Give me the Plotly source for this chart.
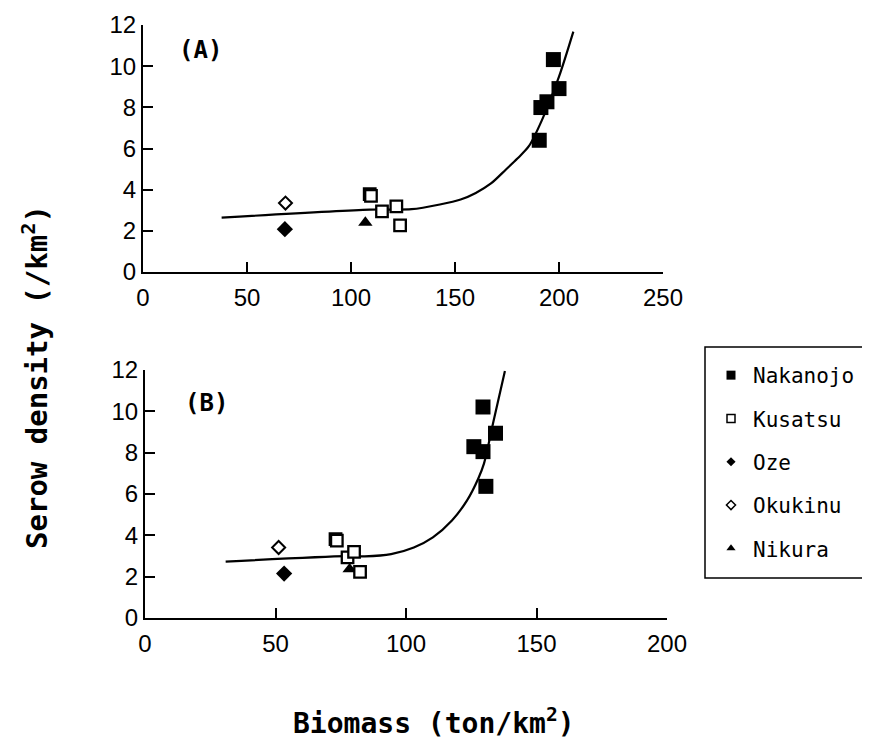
import plotly.graph_objects as go

# ---------------- data ----------------
series_names = ["Nakanojo", "Kusatsu", "Oze", "Okukinu", "Nikura"]

# Panel A
a_nakanojo_x = [197.3, 200.0, 194.2, 191.3, 190.5]
a_nakanojo_y = [10.32, 8.91, 8.27, 7.99, 6.40]
a_kusatsu_x = [109.0, 109.6, 114.9, 121.8, 123.6]
a_kusatsu_y = [3.78, 3.70, 2.95, 3.19, 2.27]
a_oze_x = [68.2]
a_oze_y = [2.08]
a_okukinu_x = [68.5]
a_okukinu_y = [3.35]
a_nikura_x = [106.9]
a_nikura_y = [2.40]
a_curve_x = [37.8, 109.1, 129.1, 142.7, 152.7, 160.0, 167.3, 174.5, 180.0, 185.5, 191.8, 200.0, 206.9]
a_curve_y = [2.64, 3.03, 3.05, 3.28, 3.52, 3.84, 4.30, 4.98, 5.51, 6.11, 7.38, 9.49, 11.68]

# Panel B
b_nakanojo_x = [129.5, 134.3, 126.0, 129.5, 130.6]
b_nakanojo_y = [10.21, 8.94, 8.29, 8.05, 6.37]
b_kusatsu_x = [73.0, 73.5, 77.6, 80.1, 82.4]
b_kusatsu_y = [3.82, 3.74, 2.93, 3.20, 2.23]
b_oze_x = [53.3]
b_oze_y = [2.15]
b_okukinu_x = [51.2]
b_okukinu_y = [3.41]
b_nikura_x = [78.4]
b_nikura_y = [2.36]
b_curve_x = [30.9, 76.9, 84.2, 94.3, 103.0, 110.3, 117.6, 123.4, 127.7, 129.9, 133.5, 137.9]
b_curve_y = [2.73, 2.99, 2.98, 3.09, 3.41, 3.90, 4.72, 5.69, 6.75, 7.48, 9.51, 11.95]

a_xticks = [0, 50, 100, 150, 200, 250]
b_xticks = [0, 50, 100, 150, 200]
yticks = [0, 2, 4, 6, 8, 10, 12]

# ---------------- layout helpers (screen pixel -> paper; page has an 8px body offset) ----------------
W, H = 870, 742
OFF = 8


def px(r):
    return (r - OFF) / W


def py(r):
    return 1 - (r - OFF) / H


# ---------------- styles ----------------
TICKFONT = dict(family="Liberation Sans, Arial", size=24, color="black")
BOLDFONT = dict(family="DejaVu Sans Mono, Liberation Mono", size=24, color="black", weight="bold")
LEGFONT = dict(family="DejaVu Sans Mono, Liberation Mono", size=21, color="black")

styles = {
    "Nakanojo": dict(symbol="square", size=15, color="black", line=dict(color="black", width=0)),
    "Kusatsu": dict(symbol="square", size=11.5, color="white", line=dict(color="black", width=2.3)),
    "Oze": dict(symbol="diamond", size=12.5, color="black", line=dict(color="black", width=0)),
    "Okukinu": dict(symbol="diamond", size=10, color="white", line=dict(color="black", width=2)),
    "Nikura": dict(symbol="triangle-up", size=12.5, color="black", line=dict(color="black", width=0)),
}
legend_styles = {
    "Nakanojo": dict(symbol="square", size=9, color="black", line=dict(color="black", width=0)),
    "Kusatsu": dict(symbol="square", size=8, color="white", line=dict(color="black", width=1.5)),
    "Oze": dict(symbol="diamond", size=7, color="black", line=dict(color="black", width=0)),
    "Okukinu": dict(symbol="diamond", size=7, color="white", line=dict(color="black", width=1.5)),
    "Nikura": dict(symbol="triangle-up", size=8, color="black", line=dict(color="black", width=0)),
}

fig = go.Figure()

panels = [
    ("x", "y", a_curve_x, a_curve_y,
     {"Nakanojo": (a_nakanojo_x, a_nakanojo_y), "Kusatsu": (a_kusatsu_x, a_kusatsu_y),
      "Oze": (a_oze_x, a_oze_y), "Okukinu": (a_okukinu_x, a_okukinu_y), "Nikura": (a_nikura_x, a_nikura_y)}),
    ("x2", "y2", b_curve_x, b_curve_y,
     {"Nakanojo": (b_nakanojo_x, b_nakanojo_y), "Kusatsu": (b_kusatsu_x, b_kusatsu_y),
      "Oze": (b_oze_x, b_oze_y), "Okukinu": (b_okukinu_x, b_okukinu_y), "Nikura": (b_nikura_x, b_nikura_y)}),
]

for xa, ya, cx, cy, pts in panels:
    fig.add_trace(go.Scatter(x=cx, y=cy, mode="lines", xaxis=xa, yaxis=ya,
                             line=dict(color="black", width=2.2, shape="spline", smoothing=0.8),
                             showlegend=False, hoverinfo="skip"))
    for name in ["Okukinu", "Oze", "Nikura", "Kusatsu", "Nakanojo"]:
        xs, ys = pts[name]
        fig.add_trace(go.Scatter(x=xs, y=ys, mode="markers", xaxis=xa, yaxis=ya,
                                 marker=styles[name], showlegend=False, name=name))

# legend-only entries (small symbols like the reference legend)
for name in series_names:
    fig.add_trace(go.Scatter(x=[None], y=[None], mode="markers", name=name,
                             marker=legend_styles[name], legendgroup=name, showlegend=True))

axis_common = dict(showgrid=False, zeroline=False, showline=True, linecolor="black", linewidth=2,
                   ticks="inside", ticklen=10, tickwidth=2, tickcolor="black", tickfont=TICKFONT,
                   mirror=False, automargin=False)

fig.update_layout(
    width=W, height=H,
    margin=dict(l=0, r=0, t=0, b=0, pad=0),
    paper_bgcolor="white", plot_bgcolor="white",
    xaxis=dict(domain=[px(143), px(663)], range=[0, 250], tickvals=a_xticks, anchor="y",
               ticklabelstandoff=3, **axis_common),
    yaxis=dict(domain=[py(272), py(25)], range=[0, 12], tickvals=yticks, anchor="x",
               ticklabelstandoff=0, **axis_common),
    xaxis2=dict(domain=[px(145), px(667)], range=[0, 200], tickvals=b_xticks, anchor="y2",
                ticklabelstandoff=3, **axis_common),
    yaxis2=dict(domain=[py(618), py(370)], range=[0, 12], tickvals=yticks, anchor="x2",
                ticklabelstandoff=0, **axis_common),
    legend=dict(x=px(709), y=py(355), xanchor="left", yanchor="top", bgcolor="rgba(0,0,0,0)",
                borderwidth=0, font=LEGFONT, tracegroupgap=13, itemwidth=34),
    showlegend=True,
    shapes=[dict(type="rect", xref="paper", yref="paper", x0=px(705), x1=1.25,
                 y0=py(578), y1=py(347), line=dict(color="black", width=1.5))],
    annotations=[
        dict(text="(A)", x=px(200), y=py(50), xref="paper", yref="paper", showarrow=False,
             font=BOLDFONT, xanchor="center", yanchor="middle"),
        dict(text="(B)", x=px(206), y=py(403), xref="paper", yref="paper", showarrow=False,
             font=BOLDFONT, xanchor="center", yanchor="middle"),
        dict(text="Serow density (/km<sup>2</sup>)", x=px(35), y=py(377), xref="paper", yref="paper",
             showarrow=False, textangle=-90, font=dict(BOLDFONT, size=29), xanchor="center", yanchor="middle"),
        dict(text="Biomass (ton/km<sup>2</sup>)", x=px(434), y=py(721), xref="paper", yref="paper",
             showarrow=False, font=dict(BOLDFONT, size=28), xanchor="center", yanchor="middle"),
    ],
)

fig.write_html("out.html")
